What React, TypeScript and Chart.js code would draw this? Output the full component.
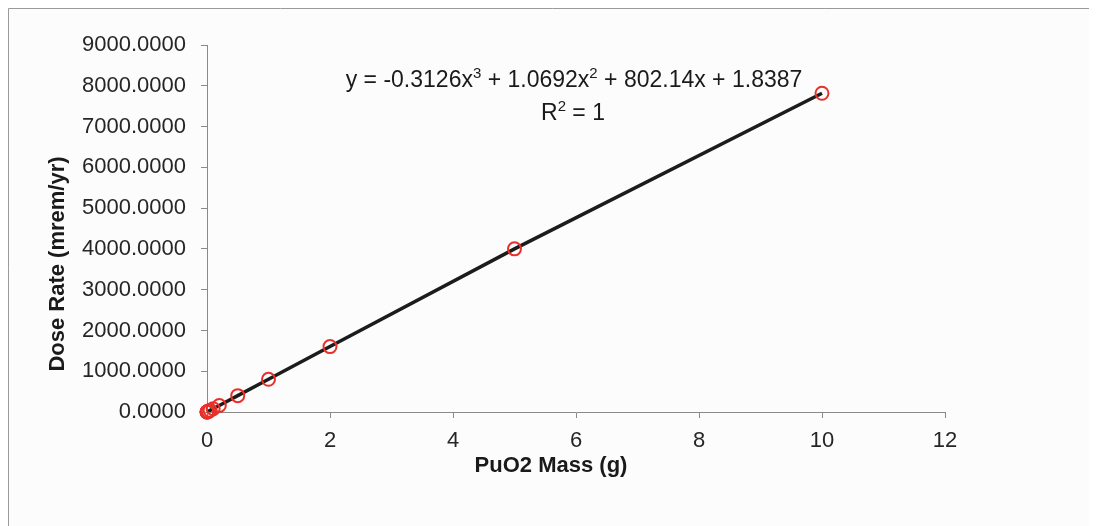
import React, { useEffect, useRef } from "react";
import { Chart, registerables } from "chart.js";

Chart.register(...registerables);

const massG = [0, 0.001, 0.002, 0.005, 0.01, 0.02, 0.05, 0.1, 0.2, 0.5, 1, 2, 5, 10];
const doseRate = [0, 0.8, 1.6, 4.0, 8.0, 16.1, 40.2, 80.3, 160.5, 401.2, 802.0, 1604.5, 4000.5, 7817.0];
const yTickMax = 9000;
const yTickStep = 1000;
const xTickMax = 12;
const xTickStep = 2;
const xTitle = "PuO2 Mass (g)";
const yTitle = "Dose Rate (mrem/yr)";
const eqParts: [string, boolean][] = [
  ["y = -0.3126x", false],
  ["3", true],
  [" + 1.0692x", false],
  ["2", true],
  [" + 802.14x + 1.8387", false],
];
const r2Parts: [string, boolean][] = [
  ["R", false],
  ["2", true],
  [" = 1", false],
];

const FONT = "'Liberation Sans', Arial, sans-serif";

const decorPlugin = {
  id: "decor",
  beforeDraw(chart: any) {
    const { ctx, width, height } = chart;
    ctx.save();
    ctx.fillStyle = "#fcfcfc";
    ctx.fillRect(0, 0, width, height);
    ctx.strokeStyle = "#9a9a9a";
    ctx.lineWidth = 1;
    ctx.beginPath();
    ctx.moveTo(0.5, height);
    ctx.lineTo(0.5, 0.5);
    ctx.lineTo(width, 0.5);
    ctx.stroke();
    ctx.restore();
  },
  afterDraw(chart: any) {
    const { ctx } = chart;
    ctx.save();
    ctx.fillStyle = "#1a1a1a";
    const drawParts = (parts: [string, boolean][], cx: number, baseY: number) => {
      let total = 0;
      const widths = parts.map(([t, sup]) => {
        ctx.font = (sup ? "15px " : "23px ") + FONT;
        const w = ctx.measureText(t).width;
        total += w;
        return w;
      });
      let x = cx - total / 2;
      ctx.textAlign = "left";
      ctx.textBaseline = "alphabetic";
      parts.forEach(([t, sup], i) => {
        ctx.font = (sup ? "15px " : "23px ") + FONT;
        ctx.fillText(t, x, sup ? baseY - 9 : baseY);
        x += widths[i];
      });
    };
    drawParts(eqParts, 566, 79);
    drawParts(r2Parts, 565, 112);

    // axis titles
    ctx.font = "bold 22px " + FONT;
    ctx.textAlign = "center";
    ctx.textBaseline = "middle";
    ctx.fillText(xTitle, 543, 458);
    ctx.save();
    ctx.translate(50, 256);
    ctx.rotate(-Math.PI / 2);
    ctx.fillText(yTitle, 0, 0);
    ctx.restore();
    ctx.restore();
  },
};

export default function App() {
  const ref = useRef<HTMLCanvasElement | null>(null);
  useEffect(() => {
    if (!ref.current) return;
    const pts = massG.map((x, i) => ({ x, y: doseRate[i] }));
    const chart = new Chart(ref.current, {
      type: "scatter",
      data: {
        datasets: [
          {
            label: "Trend",
            data: pts,
            showLine: true,
            borderColor: "#1c1c1c",
            borderWidth: 3.5,
            pointRadius: 0,
            fill: false,
            order: 2,
          },
          {
            label: "Dose",
            data: pts,
            showLine: false,
            clip: false,
            pointRadius: 6.5,
            pointBorderWidth: 2,
            pointBorderColor: "#e8302a",
            pointBackgroundColor: "rgba(0,0,0,0)",
            order: 1,
          },
        ],
      },
      options: {
        animation: false,
        responsive: false,
        layout: { padding: { top: 37, right: 152, left: 0, bottom: 0 } },
        plugins: { legend: { display: false }, tooltip: { enabled: false } },
        scales: {
          x: {
            type: "linear",
            min: 0,
            max: xTickMax,
            afterFit: (s: any) => {
              s.height = 114;
            },
            ticks: {
              stepSize: xTickStep,
              color: "#262626",
              padding: 10,
              font: { family: FONT, size: 22 },
              maxRotation: 0,
            },
            grid: {
              drawOnChartArea: false,
              tickLength: 6,
              color: "#8a8a8a",
            },
            border: { display: true, color: "#8a8a8a", width: 1 },
          },
          y: {
            type: "linear",
            min: 0,
            max: yTickMax,
            afterFit: (s: any) => {
              s.width = 199;
            },
            ticks: {
              stepSize: yTickStep,
              color: "#262626",
              padding: 15,
              font: { family: FONT, size: 22 },
              callback: (v: any) => Number(v).toFixed(4),
            },
            grid: {
              drawOnChartArea: false,
              tickLength: 6,
              color: "#8a8a8a",
            },
            border: { display: true, color: "#8a8a8a", width: 1 },
          },
        },
      },
      plugins: [decorPlugin],
    });
    return () => chart.destroy();
  }, []);
  return (
    <div style={{ width: 1089, height: 518 }}>
      <canvas ref={ref} width={1089} height={518} style={{ display: "block" }} />
    </div>
  );
}
